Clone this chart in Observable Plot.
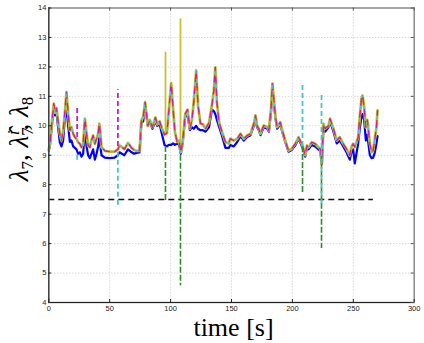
<!DOCTYPE html>
<html><head><meta charset="utf-8">
<script src="https://cdn.jsdelivr.net/npm/d3@7"></script>
<script src="https://cdn.jsdelivr.net/npm/@observablehq/plot@0.6"></script>
<style>
html,body{margin:0;padding:0;background:#fff;}
#chart{width:424px;height:343px;}
</style></head><body><div id="chart"></div>
<script>
// time [s]
const time = [0,1,2.5,4.1,5.2,6.3,7.5,9,10.4,11.8,13.1,14.5,15.9,17.3,18.6,20,21.4,22.7,24.1,25.5,26.8,28.2,29.6,31,32.3,33.7,35,36.4,37.8,39.2,40.5,41.5,43.3,46,50,54,56.7,58,60,62,65,68,70,72,74.5,76,77.5,79.1,81.3,83,85,87.5,89,91,93,95,97,98.5,100.5,102,103.5,105.4,107,108.4,110,112,113.9,115.8,117.5,119,121,122.5,124.5,126.5,128.7,131.5,134,135.5,136.7,138,139.9,142.3,145,147.8,149,151.9,154.7,157.4,160.1,162.9,165.6,168.3,169.7,171,172.4,173.8,176.5,179.3,180.7,182.5,183.6,185,186.1,187.5,190,191.3,194.1,196.8,199.5,202.3,205,206.4,208.3,210.5,211.9,213.2,215.9,218.7,221.4,222.8,224.2,225.5,226.9,229.6,230.9,233.7,236.4,238.9,241.7,244.4,247.1,248.5,249.9,251.2,254,255.3,256.7,257.6,258.9,260.3,261.5,263.6,265,266.3,267.7,269,269.9];
// lambda_7 (and the estimates lambda_7^i, which coincide with it except at the spikes)
const lambda7 = [9.2,9.4,10.1,10.75,10.45,10.6,10.2,9.73,9.5,9.84,10.41,11.14,10.41,9.84,9.95,9.73,9.61,9.56,9.44,9.39,9.27,9.39,10.24,9.73,9.33,9.27,9.5,9.67,9.39,9.56,9.73,10.07,9.27,9.15,9.12,9.12,9.2,9.33,9.28,9.2,9.42,9.25,9.18,9.15,9.15,10.18,10.3,10.8,10.0,10.2,9.95,10.28,10.05,10.15,9.9,9.7,9.75,10.5,11.45,10.6,9.8,9.45,9.5,9.1,9.5,10.4,10.55,9.9,10.2,10.8,11.88,10.7,10.08,10.05,9.9,10.1,10.72,11.2,11.98,10.8,10.1,9.78,9.45,9.4,9.56,9.5,9.56,9.73,9.56,9.67,9.73,10.07,10.35,10.0,9.9,9.73,10.01,9.96,9.84,10.6,11.43,10.8,10.3,9.96,10.12,9.9,9.5,9.16,9.22,9.39,9.61,9.5,9.33,9.0,9.33,9.27,9.44,9.39,9.27,9.22,8.7,10.07,9.9,10.0,10.24,9.9,9.5,9.61,9.39,9.22,8.99,9.28,9.39,9.28,9.61,10.3,10.92,11.03,10.63,9.95,10.2,9.39,9.1,9.16,9.56,9.95,10.52];
// lambda_8
const lambda8 = [9.15,9.35,10.0,10.65,10.35,10.5,10.0,9.45,9.3,9.5,10.2,10.65,10.0,9.45,9.5,9.3,9.25,9.2,9.05,9.1,8.95,9.05,9.85,9.3,9.0,8.9,9.05,9.2,8.85,9.05,9.3,9.6,9.0,8.92,8.9,8.92,9.0,9.1,9.05,9.0,9.2,9.1,9.05,9.08,9.1,10.1,10.15,10.7,10.0,10.15,9.9,10.15,10.0,10.05,9.7,9.35,9.3,9.35,9.35,9.4,9.35,9.4,9.35,9.05,9.45,10.3,10.4,9.85,9.95,9.9,10.0,9.9,9.85,9.85,9.8,9.95,10.55,10.5,10.4,10.2,9.95,9.65,9.25,9.25,9.35,9.3,9.45,9.65,9.5,9.62,9.68,10.0,10.25,9.95,9.85,9.68,9.95,9.9,9.8,10.5,11.3,10.7,10.25,9.9,10.05,9.85,9.45,9.12,9.18,9.33,9.55,9.45,9.25,8.95,9.25,9.2,9.35,9.3,9.2,9.15,8.7,9.95,9.8,9.95,10.15,9.8,9.4,9.5,9.3,9.1,8.85,9.1,9.2,8.72,9.4,9.9,10.3,10.4,10.2,9.5,9.7,9.0,8.9,8.92,9.1,9.4,9.65];
// excursions of the individual series (vertical spikes)
const spikeSeries = ["magenta","cyan","magenta","cyan","yellow","green","yellow","green","green","cyan","green","cyan"];
const spikeTime   = [23.3,23.3,56.7,56.7,95.8,95.8,108.1,108.1,208.3,208.3,223.9,223.9];
const spikeFrom   = [9.6,9.0,9.3,9.1,9.75,9.3,9.1,9.0,9.3,9.3,9.0,11.03];
const spikeTo     = [10.6,8.8,11.22,7.28,12.5,7.42,13.63,4.57,7.71,11.45,5.83,7.34];
const thresholdLevel = 7.5;
const thresholdEnd = 266.5;
const xTicks = [0,50,100,150,200,250,300];
const yTicks = [4,5,6,7,8,9,10,11,12,13,14];

const colors = {blue:"#0000ff", yellow:"#c8c030", magenta:"#c020c0", cyan:"#40c8c8", green:"#2e8b2e", red:"#ff2020"};
const rows = time.map((t,i)=>({t, l7: lambda7[i], l8: lambda8[i]}));
const spikes = spikeTime.map((t,i)=>({t, s: spikeSeries[i], y1: spikeFrom[i], y2: spikeTo[i]}));
const spikeMark = (name, opts) => Plot.ruleX(spikes.filter(d=>d.s===name), {x:"t", y1:"y1", y2:"y2", stroke: colors[name], ...opts});

const W = 424, H = 343, mL = 48.3, mR = 10.3, mT = 7.5, mB = 41;
const innerW = W - mL - mR, innerH = H - mT - mB;

const plot = Plot.plot({
  width: W, height: H,
  marginLeft: mL, marginRight: mR, marginTop: mT, marginBottom: mB,
  x: {domain: [0,300]},
  y: {domain: [4,14]},
  style: {fontFamily: "'Liberation Sans', Arial, sans-serif", fontSize: "7.5px", color: "#222", background: "#fff"},
  marks: [
    Plot.ruleX(xTicks.slice(1,-1), {stroke:"#b8b8b8", strokeDasharray:"1,2", strokeWidth: 0.8}),
    Plot.ruleY(yTicks.slice(1,-1), {stroke:"#b8b8b8", strokeDasharray:"1,2", strokeWidth: 0.8}),
    Plot.line(rows, {x:"t", y:"l8", stroke: colors.blue, strokeWidth: 2.2}),
    Plot.line(rows, {x:"t", y:"l7", stroke: colors.yellow, strokeWidth: 2.8}),
    spikeMark("yellow", {strokeWidth: 1.8}),
    Plot.line(rows, {x:"t", y:"l7", stroke: colors.red, strokeWidth: 1.3, strokeDasharray:"3,9", strokeDashoffset: 0}),
    Plot.line(rows, {x:"t", y:"l7", stroke: colors.magenta, strokeWidth: 1.4, strokeDasharray:"4,8", strokeDashoffset: 4}),
    Plot.line(rows, {x:"t", y:"l7", stroke: colors.cyan, strokeWidth: 1.3, strokeDasharray:"3,9", strokeDashoffset: 8}),
    Plot.ruleY([thresholdLevel], {x1: 0, x2: thresholdEnd, stroke: "#111", strokeWidth: 1.4, strokeDasharray: "6,4"}),
    spikeMark("green", {strokeWidth: 1.6, strokeDasharray: "6,2"}),
    spikeMark("cyan", {strokeWidth: 1.8, strokeDasharray: "5,3"}),
    spikeMark("magenta", {strokeWidth: 1.8, strokeDasharray: "5,3"}),
    Plot.frame({stroke: "#8a8a8a", strokeWidth: 1.5}),
    Plot.ruleX([0], {stroke: "#222", strokeWidth: 1}),
    Plot.ruleY([4], {stroke: "#222", strokeWidth: 1}),
    Plot.tickX(xTicks, {x: d=>d, insetTop: innerH - 3, stroke: "#222"}),
    Plot.tickX(xTicks, {x: d=>d, insetBottom: innerH - 3, stroke: "#555"}),
    Plot.tickY(yTicks, {y: d=>d, insetRight: innerW - 3, stroke: "#222"}),
    Plot.tickY(yTicks, {y: d=>d, insetLeft: innerW - 3, stroke: "#555"}),
    Plot.axisX(xTicks, {tickSize: 0, tickPadding: 3, label: null}),
    Plot.axisY(yTicks, {tickSize: 0, tickPadding: 2.5, label: null})
  ]
});
document.getElementById("chart").appendChild(plot);

const svg = d3.select(plot);
// x label
svg.append("text")
  .attr("x", 233.5).attr("y", 336)
  .attr("text-anchor", "middle")
  .style("font-family", "'Liberation Serif', 'DejaVu Serif', serif")
  .style("font-size", "26px").style("fill", "#000")
  .text("time [s]");
// y label
const yl = svg.append("text")
  .attr("transform", "translate(28,139) rotate(-90)")
  .attr("text-anchor", "middle")
  .style("font-family", "'Liberation Serif', 'DejaVu Serif', serif")
  .style("font-size", "27px").style("fill", "#000");
yl.append("tspan").style("font-style","italic").text("λ");
yl.append("tspan").attr("dy", 5).style("font-size","17px").text("7");
yl.append("tspan").attr("dy", -5).text(", ");
yl.append("tspan").style("font-style","italic").text("λ\u0302");
yl.append("tspan").attr("dy", 5).style("font-size","17px").text("7");
yl.append("tspan").attr("dx", -8).attr("dy", -14).style("font-size","17px").style("font-style","italic").text("i");
yl.append("tspan").attr("dy", 9).text(", ");
yl.append("tspan").style("font-style","italic").text("λ");
yl.append("tspan").attr("dy", 5).style("font-size","17px").text("8");
</script>
</body></html>
